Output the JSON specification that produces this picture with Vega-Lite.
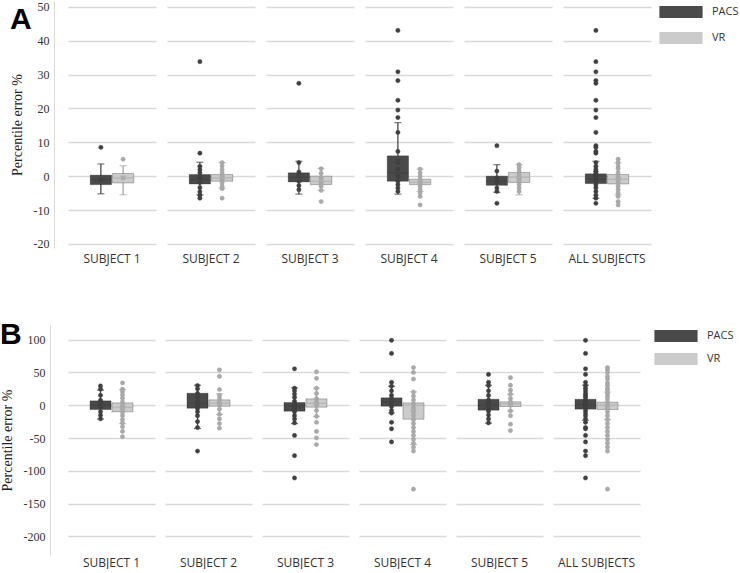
{
"$schema":"https://vega.github.io/schema/vega-lite/v6.json",
"background":"white",
"padding":{"left":0,"top":0,"right":0,"bottom":0},
"config":{
 "view":{"stroke":null},
 "axis":{"grid":true,"gridColor":"#d9d9d9","gridWidth":1.5,"domainColor":"#d9d9d9","domainWidth":1,"ticks":false,"labelFont":"Liberation Serif","labelFontSize":12,"labelColor":"#333333","labelPadding":5,"titleFont":"Liberation Serif","titleFontSize":14,"titleFontWeight":"normal","titleColor":"#222222","titlePadding":9,"labelExpr":"'' + datum.value"},
 "legend":{"symbolType":"M-3.6,-1H3.6V1H-3.6Z","symbolSize":144,"symbolStrokeWidth":0,"symbolOpacity":1,"labelFont":"Open Sans","labelFontSize":11,"labelColor":"#333333","labelOffset":25,"rowPadding":14,"offset":19,"padding":5},
 "header":{"labelFont":"Open Sans","labelFontSize":12,"labelColor":"#333333"}
},
"spacing":55,
"resolve":{"scale":{"color":"independent","fill":"independent","stroke":"independent","y":"independent"},"legend":{"color":"independent"}},
"datasets":{
"A":[
{"kind":"box","subject":"SUBJECT 1","group":"PACS","lo":-5.2,"q1":-2.5,"med":-1.0,"q3":0.3,"hi":3.6,"mean":-1.0},
{"kind":"box","subject":"SUBJECT 1","group":"VR","lo":-5.5,"q1":-2.0,"med":-0.5,"q3":0.8,"hi":3.1,"mean":-0.5},
{"kind":"box","subject":"SUBJECT 2","group":"PACS","lo":-5.5,"q1":-2.3,"med":-1.0,"q3":0.5,"hi":4.1,"mean":-0.3},
{"kind":"box","subject":"SUBJECT 2","group":"VR","lo":-3.5,"q1":-1.5,"med":-0.5,"q3":0.5,"hi":4.0,"mean":-0.4},
{"kind":"box","subject":"SUBJECT 3","group":"PACS","lo":-5.3,"q1":-1.7,"med":-0.3,"q3":1.0,"hi":4.4,"mean":0.3},
{"kind":"box","subject":"SUBJECT 3","group":"VR","lo":-4.2,"q1":-2.5,"med":-1.5,"q3":0.0,"hi":2.3,"mean":-1.5},
{"kind":"box","subject":"SUBJECT 4","group":"PACS","lo":-5.3,"q1":-1.5,"med":1.0,"q3":6.0,"hi":15.8,"mean":4.5},
{"kind":"box","subject":"SUBJECT 4","group":"VR","lo":-4.5,"q1":-2.5,"med":-1.8,"q3":-0.9,"hi":2.1,"mean":-1.8},
{"kind":"box","subject":"SUBJECT 5","group":"PACS","lo":-4.8,"q1":-2.7,"med":-1.5,"q3":0.0,"hi":3.4,"mean":-1.3},
{"kind":"box","subject":"SUBJECT 5","group":"VR","lo":-5.5,"q1":-1.9,"med":-0.3,"q3":1.1,"hi":3.4,"mean":-0.4},
{"kind":"box","subject":"ALL SUBJECTS","group":"PACS","lo":-6.5,"q1":-2.2,"med":-0.8,"q3":0.7,"hi":4.4,"mean":1.0},
{"kind":"box","subject":"ALL SUBJECTS","group":"VR","lo":-5.5,"q1":-2.3,"med":-0.9,"q3":0.5,"hi":3.9,"mean":-0.8},
{"kind":"pt","subject":"SUBJECT 1","group":"PACS","value":8.5},
{"kind":"pt","subject":"SUBJECT 1","group":"VR","value":5.0},
{"kind":"pt","subject":"SUBJECT 2","group":"PACS","value":33.8},
{"kind":"pt","subject":"SUBJECT 2","group":"PACS","value":6.8},
{"kind":"pt","subject":"SUBJECT 2","group":"PACS","value":2.9},
{"kind":"pt","subject":"SUBJECT 2","group":"PACS","value":1.9},
{"kind":"pt","subject":"SUBJECT 2","group":"PACS","value":1.0},
{"kind":"pt","subject":"SUBJECT 2","group":"PACS","value":-0.5},
{"kind":"pt","subject":"SUBJECT 2","group":"PACS","value":-1.9},
{"kind":"pt","subject":"SUBJECT 2","group":"PACS","value":-3.4},
{"kind":"pt","subject":"SUBJECT 2","group":"PACS","value":-4.6},
{"kind":"pt","subject":"SUBJECT 2","group":"PACS","value":-5.6},
{"kind":"pt","subject":"SUBJECT 2","group":"PACS","value":-6.5},
{"kind":"pt","subject":"SUBJECT 2","group":"VR","value":4.0},
{"kind":"pt","subject":"SUBJECT 2","group":"VR","value":3.0},
{"kind":"pt","subject":"SUBJECT 2","group":"VR","value":1.9},
{"kind":"pt","subject":"SUBJECT 2","group":"VR","value":1.0},
{"kind":"pt","subject":"SUBJECT 2","group":"VR","value":0.0},
{"kind":"pt","subject":"SUBJECT 2","group":"VR","value":-1.0},
{"kind":"pt","subject":"SUBJECT 2","group":"VR","value":-1.9},
{"kind":"pt","subject":"SUBJECT 2","group":"VR","value":-2.9},
{"kind":"pt","subject":"SUBJECT 2","group":"VR","value":-3.7},
{"kind":"pt","subject":"SUBJECT 2","group":"VR","value":-6.5},
{"kind":"pt","subject":"SUBJECT 3","group":"PACS","value":27.4},
{"kind":"pt","subject":"SUBJECT 3","group":"PACS","value":4.0},
{"kind":"pt","subject":"SUBJECT 3","group":"PACS","value":1.2},
{"kind":"pt","subject":"SUBJECT 3","group":"PACS","value":0.2},
{"kind":"pt","subject":"SUBJECT 3","group":"PACS","value":-1.5},
{"kind":"pt","subject":"SUBJECT 3","group":"PACS","value":-2.8},
{"kind":"pt","subject":"SUBJECT 3","group":"PACS","value":-4.0},
{"kind":"pt","subject":"SUBJECT 3","group":"VR","value":2.2},
{"kind":"pt","subject":"SUBJECT 3","group":"VR","value":0.8},
{"kind":"pt","subject":"SUBJECT 3","group":"VR","value":-0.5},
{"kind":"pt","subject":"SUBJECT 3","group":"VR","value":-2.0},
{"kind":"pt","subject":"SUBJECT 3","group":"VR","value":-3.0},
{"kind":"pt","subject":"SUBJECT 3","group":"VR","value":-4.2},
{"kind":"pt","subject":"SUBJECT 3","group":"VR","value":-7.5},
{"kind":"pt","subject":"SUBJECT 4","group":"PACS","value":43.0},
{"kind":"pt","subject":"SUBJECT 4","group":"PACS","value":30.8},
{"kind":"pt","subject":"SUBJECT 4","group":"PACS","value":28.2},
{"kind":"pt","subject":"SUBJECT 4","group":"PACS","value":22.4},
{"kind":"pt","subject":"SUBJECT 4","group":"PACS","value":19.5},
{"kind":"pt","subject":"SUBJECT 4","group":"PACS","value":17.3},
{"kind":"pt","subject":"SUBJECT 4","group":"PACS","value":12.9},
{"kind":"pt","subject":"SUBJECT 4","group":"PACS","value":7.3},
{"kind":"pt","subject":"SUBJECT 4","group":"PACS","value":4.0},
{"kind":"pt","subject":"SUBJECT 4","group":"PACS","value":2.0},
{"kind":"pt","subject":"SUBJECT 4","group":"PACS","value":0.0},
{"kind":"pt","subject":"SUBJECT 4","group":"PACS","value":-1.5},
{"kind":"pt","subject":"SUBJECT 4","group":"PACS","value":-2.5},
{"kind":"pt","subject":"SUBJECT 4","group":"PACS","value":-3.5},
{"kind":"pt","subject":"SUBJECT 4","group":"PACS","value":-4.5},
{"kind":"pt","subject":"SUBJECT 4","group":"VR","value":2.1},
{"kind":"pt","subject":"SUBJECT 4","group":"VR","value":1.0},
{"kind":"pt","subject":"SUBJECT 4","group":"VR","value":0.0},
{"kind":"pt","subject":"SUBJECT 4","group":"VR","value":-1.0},
{"kind":"pt","subject":"SUBJECT 4","group":"VR","value":-2.0},
{"kind":"pt","subject":"SUBJECT 4","group":"VR","value":-3.0},
{"kind":"pt","subject":"SUBJECT 4","group":"VR","value":-4.0},
{"kind":"pt","subject":"SUBJECT 4","group":"VR","value":-5.0},
{"kind":"pt","subject":"SUBJECT 4","group":"VR","value":-6.0},
{"kind":"pt","subject":"SUBJECT 4","group":"VR","value":-8.5},
{"kind":"pt","subject":"SUBJECT 5","group":"PACS","value":9.0},
{"kind":"pt","subject":"SUBJECT 5","group":"PACS","value":1.5},
{"kind":"pt","subject":"SUBJECT 5","group":"PACS","value":-0.5},
{"kind":"pt","subject":"SUBJECT 5","group":"PACS","value":-2.0},
{"kind":"pt","subject":"SUBJECT 5","group":"PACS","value":-3.5},
{"kind":"pt","subject":"SUBJECT 5","group":"PACS","value":-4.5},
{"kind":"pt","subject":"SUBJECT 5","group":"PACS","value":-8.0},
{"kind":"pt","subject":"SUBJECT 5","group":"VR","value":3.4},
{"kind":"pt","subject":"SUBJECT 5","group":"VR","value":2.5},
{"kind":"pt","subject":"SUBJECT 5","group":"VR","value":1.5},
{"kind":"pt","subject":"SUBJECT 5","group":"VR","value":0.5},
{"kind":"pt","subject":"SUBJECT 5","group":"VR","value":-0.5},
{"kind":"pt","subject":"SUBJECT 5","group":"VR","value":-1.5},
{"kind":"pt","subject":"SUBJECT 5","group":"VR","value":-2.5},
{"kind":"pt","subject":"SUBJECT 5","group":"VR","value":-3.5},
{"kind":"pt","subject":"SUBJECT 5","group":"VR","value":-4.5},
{"kind":"pt","subject":"ALL SUBJECTS","group":"PACS","value":43.0},
{"kind":"pt","subject":"ALL SUBJECTS","group":"PACS","value":33.8},
{"kind":"pt","subject":"ALL SUBJECTS","group":"PACS","value":30.8},
{"kind":"pt","subject":"ALL SUBJECTS","group":"PACS","value":28.2},
{"kind":"pt","subject":"ALL SUBJECTS","group":"PACS","value":27.4},
{"kind":"pt","subject":"ALL SUBJECTS","group":"PACS","value":22.4},
{"kind":"pt","subject":"ALL SUBJECTS","group":"PACS","value":19.5},
{"kind":"pt","subject":"ALL SUBJECTS","group":"PACS","value":17.3},
{"kind":"pt","subject":"ALL SUBJECTS","group":"PACS","value":12.9},
{"kind":"pt","subject":"ALL SUBJECTS","group":"PACS","value":9.0},
{"kind":"pt","subject":"ALL SUBJECTS","group":"PACS","value":8.5},
{"kind":"pt","subject":"ALL SUBJECTS","group":"PACS","value":7.3},
{"kind":"pt","subject":"ALL SUBJECTS","group":"PACS","value":6.8},
{"kind":"pt","subject":"ALL SUBJECTS","group":"PACS","value":4.0},
{"kind":"pt","subject":"ALL SUBJECTS","group":"PACS","value":2.9},
{"kind":"pt","subject":"ALL SUBJECTS","group":"PACS","value":2.0},
{"kind":"pt","subject":"ALL SUBJECTS","group":"PACS","value":1.2},
{"kind":"pt","subject":"ALL SUBJECTS","group":"PACS","value":0.2},
{"kind":"pt","subject":"ALL SUBJECTS","group":"PACS","value":-0.5},
{"kind":"pt","subject":"ALL SUBJECTS","group":"PACS","value":-1.5},
{"kind":"pt","subject":"ALL SUBJECTS","group":"PACS","value":-2.5},
{"kind":"pt","subject":"ALL SUBJECTS","group":"PACS","value":-3.4},
{"kind":"pt","subject":"ALL SUBJECTS","group":"PACS","value":-4.5},
{"kind":"pt","subject":"ALL SUBJECTS","group":"PACS","value":-5.6},
{"kind":"pt","subject":"ALL SUBJECTS","group":"PACS","value":-6.5},
{"kind":"pt","subject":"ALL SUBJECTS","group":"PACS","value":-8.0},
{"kind":"pt","subject":"ALL SUBJECTS","group":"VR","value":5.0},
{"kind":"pt","subject":"ALL SUBJECTS","group":"VR","value":4.0},
{"kind":"pt","subject":"ALL SUBJECTS","group":"VR","value":3.0},
{"kind":"pt","subject":"ALL SUBJECTS","group":"VR","value":2.2},
{"kind":"pt","subject":"ALL SUBJECTS","group":"VR","value":1.0},
{"kind":"pt","subject":"ALL SUBJECTS","group":"VR","value":0.0},
{"kind":"pt","subject":"ALL SUBJECTS","group":"VR","value":-1.0},
{"kind":"pt","subject":"ALL SUBJECTS","group":"VR","value":-2.0},
{"kind":"pt","subject":"ALL SUBJECTS","group":"VR","value":-3.0},
{"kind":"pt","subject":"ALL SUBJECTS","group":"VR","value":-4.0},
{"kind":"pt","subject":"ALL SUBJECTS","group":"VR","value":-5.0},
{"kind":"pt","subject":"ALL SUBJECTS","group":"VR","value":-6.0},
{"kind":"pt","subject":"ALL SUBJECTS","group":"VR","value":-7.5},
{"kind":"pt","subject":"ALL SUBJECTS","group":"VR","value":-8.5}
],
"B":[
{"kind":"box","subject":"SUBJECT 1","group":"PACS","lo":-21,"q1":-6.6,"med":0,"q3":6.7,"hi":23,"mean":1},
{"kind":"box","subject":"SUBJECT 1","group":"VR","lo":-28,"q1":-10,"med":-3,"q3":3.6,"hi":24,"mean":-5},
{"kind":"box","subject":"SUBJECT 2","group":"PACS","lo":-35.5,"q1":-4.6,"med":3,"q3":18.3,"hi":30.5,"mean":2},
{"kind":"box","subject":"SUBJECT 2","group":"VR","lo":-14,"q1":-1.5,"med":3,"q3":8.2,"hi":17.4,"mean":3},
{"kind":"box","subject":"SUBJECT 3","group":"PACS","lo":-28,"q1":-9.1,"med":-1,"q3":4.1,"hi":26.5,"mean":-5},
{"kind":"box","subject":"SUBJECT 3","group":"VR","lo":-17,"q1":-3,"med":3,"q3":9.7,"hi":26,"mean":2},
{"kind":"box","subject":"SUBJECT 4","group":"PACS","lo":-11.6,"q1":-1.5,"med":5,"q3":11.3,"hi":29,"mean":6},
{"kind":"box","subject":"SUBJECT 4","group":"VR","lo":-60,"q1":-21.3,"med":0,"q3":3.6,"hi":20.4,"mean":-8},
{"kind":"box","subject":"SUBJECT 5","group":"PACS","lo":-27.4,"q1":-7.6,"med":0,"q3":9.1,"hi":30.5,"mean":1},
{"kind":"box","subject":"SUBJECT 5","group":"VR","lo":-8.6,"q1":-2,"med":2,"q3":5.2,"hi":16.8,"mean":2},
{"kind":"box","subject":"ALL SUBJECTS","group":"PACS","lo":-22.9,"q1":-6,"med":1,"q3":9.1,"hi":30.5,"mean":1},
{"kind":"box","subject":"ALL SUBJECTS","group":"VR","lo":-22,"q1":-6.6,"med":0,"q3":4.6,"hi":20,"mean":-3},
{"kind":"pt","subject":"SUBJECT 1","group":"PACS","value":29.4},
{"kind":"pt","subject":"SUBJECT 1","group":"PACS","value":24.4},
{"kind":"pt","subject":"SUBJECT 1","group":"PACS","value":15.2},
{"kind":"pt","subject":"SUBJECT 1","group":"PACS","value":7.6},
{"kind":"pt","subject":"SUBJECT 1","group":"PACS","value":2.6},
{"kind":"pt","subject":"SUBJECT 1","group":"PACS","value":-2.5},
{"kind":"pt","subject":"SUBJECT 1","group":"PACS","value":-10},
{"kind":"pt","subject":"SUBJECT 1","group":"PACS","value":-15.2},
{"kind":"pt","subject":"SUBJECT 1","group":"PACS","value":-20.7},
{"kind":"pt","subject":"SUBJECT 1","group":"VR","value":34},
{"kind":"pt","subject":"SUBJECT 1","group":"VR","value":24.5},
{"kind":"pt","subject":"SUBJECT 1","group":"VR","value":21},
{"kind":"pt","subject":"SUBJECT 1","group":"VR","value":16},
{"kind":"pt","subject":"SUBJECT 1","group":"VR","value":11},
{"kind":"pt","subject":"SUBJECT 1","group":"VR","value":5},
{"kind":"pt","subject":"SUBJECT 1","group":"VR","value":0},
{"kind":"pt","subject":"SUBJECT 1","group":"VR","value":-5},
{"kind":"pt","subject":"SUBJECT 1","group":"VR","value":-11},
{"kind":"pt","subject":"SUBJECT 1","group":"VR","value":-16},
{"kind":"pt","subject":"SUBJECT 1","group":"VR","value":-22},
{"kind":"pt","subject":"SUBJECT 1","group":"VR","value":-27},
{"kind":"pt","subject":"SUBJECT 1","group":"VR","value":-33},
{"kind":"pt","subject":"SUBJECT 1","group":"VR","value":-40},
{"kind":"pt","subject":"SUBJECT 1","group":"VR","value":-48},
{"kind":"pt","subject":"SUBJECT 2","group":"PACS","value":30},
{"kind":"pt","subject":"SUBJECT 2","group":"PACS","value":25},
{"kind":"pt","subject":"SUBJECT 2","group":"PACS","value":18},
{"kind":"pt","subject":"SUBJECT 2","group":"PACS","value":12},
{"kind":"pt","subject":"SUBJECT 2","group":"PACS","value":5},
{"kind":"pt","subject":"SUBJECT 2","group":"PACS","value":0},
{"kind":"pt","subject":"SUBJECT 2","group":"PACS","value":-5},
{"kind":"pt","subject":"SUBJECT 2","group":"PACS","value":-10},
{"kind":"pt","subject":"SUBJECT 2","group":"PACS","value":-16},
{"kind":"pt","subject":"SUBJECT 2","group":"PACS","value":-25},
{"kind":"pt","subject":"SUBJECT 2","group":"PACS","value":-34},
{"kind":"pt","subject":"SUBJECT 2","group":"PACS","value":-70},
{"kind":"pt","subject":"SUBJECT 2","group":"VR","value":54},
{"kind":"pt","subject":"SUBJECT 2","group":"VR","value":44},
{"kind":"pt","subject":"SUBJECT 2","group":"VR","value":24},
{"kind":"pt","subject":"SUBJECT 2","group":"VR","value":15},
{"kind":"pt","subject":"SUBJECT 2","group":"VR","value":10},
{"kind":"pt","subject":"SUBJECT 2","group":"VR","value":5},
{"kind":"pt","subject":"SUBJECT 2","group":"VR","value":0},
{"kind":"pt","subject":"SUBJECT 2","group":"VR","value":-6},
{"kind":"pt","subject":"SUBJECT 2","group":"VR","value":-14},
{"kind":"pt","subject":"SUBJECT 2","group":"VR","value":-21},
{"kind":"pt","subject":"SUBJECT 2","group":"VR","value":-28},
{"kind":"pt","subject":"SUBJECT 2","group":"VR","value":-35},
{"kind":"pt","subject":"SUBJECT 3","group":"PACS","value":55.5},
{"kind":"pt","subject":"SUBJECT 3","group":"PACS","value":26},
{"kind":"pt","subject":"SUBJECT 3","group":"PACS","value":22},
{"kind":"pt","subject":"SUBJECT 3","group":"PACS","value":17},
{"kind":"pt","subject":"SUBJECT 3","group":"PACS","value":12},
{"kind":"pt","subject":"SUBJECT 3","group":"PACS","value":6},
{"kind":"pt","subject":"SUBJECT 3","group":"PACS","value":0},
{"kind":"pt","subject":"SUBJECT 3","group":"PACS","value":-5},
{"kind":"pt","subject":"SUBJECT 3","group":"PACS","value":-10},
{"kind":"pt","subject":"SUBJECT 3","group":"PACS","value":-16},
{"kind":"pt","subject":"SUBJECT 3","group":"PACS","value":-21},
{"kind":"pt","subject":"SUBJECT 3","group":"PACS","value":-27},
{"kind":"pt","subject":"SUBJECT 3","group":"PACS","value":-46},
{"kind":"pt","subject":"SUBJECT 3","group":"PACS","value":-77},
{"kind":"pt","subject":"SUBJECT 3","group":"PACS","value":-111},
{"kind":"pt","subject":"SUBJECT 3","group":"VR","value":51},
{"kind":"pt","subject":"SUBJECT 3","group":"VR","value":41},
{"kind":"pt","subject":"SUBJECT 3","group":"VR","value":26},
{"kind":"pt","subject":"SUBJECT 3","group":"VR","value":18},
{"kind":"pt","subject":"SUBJECT 3","group":"VR","value":10},
{"kind":"pt","subject":"SUBJECT 3","group":"VR","value":5},
{"kind":"pt","subject":"SUBJECT 3","group":"VR","value":0},
{"kind":"pt","subject":"SUBJECT 3","group":"VR","value":-8},
{"kind":"pt","subject":"SUBJECT 3","group":"VR","value":-17},
{"kind":"pt","subject":"SUBJECT 3","group":"VR","value":-26},
{"kind":"pt","subject":"SUBJECT 3","group":"VR","value":-40},
{"kind":"pt","subject":"SUBJECT 3","group":"VR","value":-50},
{"kind":"pt","subject":"SUBJECT 3","group":"VR","value":-60},
{"kind":"pt","subject":"SUBJECT 4","group":"PACS","value":99},
{"kind":"pt","subject":"SUBJECT 4","group":"PACS","value":79},
{"kind":"pt","subject":"SUBJECT 4","group":"PACS","value":35},
{"kind":"pt","subject":"SUBJECT 4","group":"PACS","value":29},
{"kind":"pt","subject":"SUBJECT 4","group":"PACS","value":22},
{"kind":"pt","subject":"SUBJECT 4","group":"PACS","value":15},
{"kind":"pt","subject":"SUBJECT 4","group":"PACS","value":10},
{"kind":"pt","subject":"SUBJECT 4","group":"PACS","value":4},
{"kind":"pt","subject":"SUBJECT 4","group":"PACS","value":-2},
{"kind":"pt","subject":"SUBJECT 4","group":"PACS","value":-8},
{"kind":"pt","subject":"SUBJECT 4","group":"PACS","value":-12},
{"kind":"pt","subject":"SUBJECT 4","group":"PACS","value":-26},
{"kind":"pt","subject":"SUBJECT 4","group":"PACS","value":-36},
{"kind":"pt","subject":"SUBJECT 4","group":"PACS","value":-56},
{"kind":"pt","subject":"SUBJECT 4","group":"VR","value":57.5},
{"kind":"pt","subject":"SUBJECT 4","group":"VR","value":50},
{"kind":"pt","subject":"SUBJECT 4","group":"VR","value":40},
{"kind":"pt","subject":"SUBJECT 4","group":"VR","value":20},
{"kind":"pt","subject":"SUBJECT 4","group":"VR","value":14},
{"kind":"pt","subject":"SUBJECT 4","group":"VR","value":8},
{"kind":"pt","subject":"SUBJECT 4","group":"VR","value":2},
{"kind":"pt","subject":"SUBJECT 4","group":"VR","value":-4},
{"kind":"pt","subject":"SUBJECT 4","group":"VR","value":-10},
{"kind":"pt","subject":"SUBJECT 4","group":"VR","value":-16},
{"kind":"pt","subject":"SUBJECT 4","group":"VR","value":-22},
{"kind":"pt","subject":"SUBJECT 4","group":"VR","value":-28},
{"kind":"pt","subject":"SUBJECT 4","group":"VR","value":-34},
{"kind":"pt","subject":"SUBJECT 4","group":"VR","value":-40},
{"kind":"pt","subject":"SUBJECT 4","group":"VR","value":-46},
{"kind":"pt","subject":"SUBJECT 4","group":"VR","value":-52},
{"kind":"pt","subject":"SUBJECT 4","group":"VR","value":-58},
{"kind":"pt","subject":"SUBJECT 4","group":"VR","value":-64},
{"kind":"pt","subject":"SUBJECT 4","group":"VR","value":-70},
{"kind":"pt","subject":"SUBJECT 4","group":"VR","value":-128},
{"kind":"pt","subject":"SUBJECT 5","group":"PACS","value":47},
{"kind":"pt","subject":"SUBJECT 5","group":"PACS","value":35},
{"kind":"pt","subject":"SUBJECT 5","group":"PACS","value":30},
{"kind":"pt","subject":"SUBJECT 5","group":"PACS","value":22},
{"kind":"pt","subject":"SUBJECT 5","group":"PACS","value":15},
{"kind":"pt","subject":"SUBJECT 5","group":"PACS","value":8},
{"kind":"pt","subject":"SUBJECT 5","group":"PACS","value":3},
{"kind":"pt","subject":"SUBJECT 5","group":"PACS","value":-3},
{"kind":"pt","subject":"SUBJECT 5","group":"PACS","value":-9},
{"kind":"pt","subject":"SUBJECT 5","group":"PACS","value":-15},
{"kind":"pt","subject":"SUBJECT 5","group":"PACS","value":-21},
{"kind":"pt","subject":"SUBJECT 5","group":"PACS","value":-27},
{"kind":"pt","subject":"SUBJECT 5","group":"VR","value":42},
{"kind":"pt","subject":"SUBJECT 5","group":"VR","value":30.5},
{"kind":"pt","subject":"SUBJECT 5","group":"VR","value":23},
{"kind":"pt","subject":"SUBJECT 5","group":"VR","value":16.8},
{"kind":"pt","subject":"SUBJECT 5","group":"VR","value":10},
{"kind":"pt","subject":"SUBJECT 5","group":"VR","value":5},
{"kind":"pt","subject":"SUBJECT 5","group":"VR","value":0},
{"kind":"pt","subject":"SUBJECT 5","group":"VR","value":-8.6},
{"kind":"pt","subject":"SUBJECT 5","group":"VR","value":-16},
{"kind":"pt","subject":"SUBJECT 5","group":"VR","value":-29},
{"kind":"pt","subject":"SUBJECT 5","group":"VR","value":-38.6},
{"kind":"pt","subject":"ALL SUBJECTS","group":"PACS","value":99},
{"kind":"pt","subject":"ALL SUBJECTS","group":"PACS","value":79},
{"kind":"pt","subject":"ALL SUBJECTS","group":"PACS","value":55.5},
{"kind":"pt","subject":"ALL SUBJECTS","group":"PACS","value":47},
{"kind":"pt","subject":"ALL SUBJECTS","group":"PACS","value":35},
{"kind":"pt","subject":"ALL SUBJECTS","group":"PACS","value":30},
{"kind":"pt","subject":"ALL SUBJECTS","group":"PACS","value":26},
{"kind":"pt","subject":"ALL SUBJECTS","group":"PACS","value":22},
{"kind":"pt","subject":"ALL SUBJECTS","group":"PACS","value":18},
{"kind":"pt","subject":"ALL SUBJECTS","group":"PACS","value":15},
{"kind":"pt","subject":"ALL SUBJECTS","group":"PACS","value":12},
{"kind":"pt","subject":"ALL SUBJECTS","group":"PACS","value":8},
{"kind":"pt","subject":"ALL SUBJECTS","group":"PACS","value":4},
{"kind":"pt","subject":"ALL SUBJECTS","group":"PACS","value":0},
{"kind":"pt","subject":"ALL SUBJECTS","group":"PACS","value":-3},
{"kind":"pt","subject":"ALL SUBJECTS","group":"PACS","value":-8},
{"kind":"pt","subject":"ALL SUBJECTS","group":"PACS","value":-12},
{"kind":"pt","subject":"ALL SUBJECTS","group":"PACS","value":-16},
{"kind":"pt","subject":"ALL SUBJECTS","group":"PACS","value":-21},
{"kind":"pt","subject":"ALL SUBJECTS","group":"PACS","value":-26},
{"kind":"pt","subject":"ALL SUBJECTS","group":"PACS","value":-34},
{"kind":"pt","subject":"ALL SUBJECTS","group":"PACS","value":-36},
{"kind":"pt","subject":"ALL SUBJECTS","group":"PACS","value":-46},
{"kind":"pt","subject":"ALL SUBJECTS","group":"PACS","value":-56},
{"kind":"pt","subject":"ALL SUBJECTS","group":"PACS","value":-70},
{"kind":"pt","subject":"ALL SUBJECTS","group":"PACS","value":-77},
{"kind":"pt","subject":"ALL SUBJECTS","group":"PACS","value":-111},
{"kind":"pt","subject":"ALL SUBJECTS","group":"VR","value":57.5},
{"kind":"pt","subject":"ALL SUBJECTS","group":"VR","value":54},
{"kind":"pt","subject":"ALL SUBJECTS","group":"VR","value":50},
{"kind":"pt","subject":"ALL SUBJECTS","group":"VR","value":44},
{"kind":"pt","subject":"ALL SUBJECTS","group":"VR","value":40},
{"kind":"pt","subject":"ALL SUBJECTS","group":"VR","value":34},
{"kind":"pt","subject":"ALL SUBJECTS","group":"VR","value":30.5},
{"kind":"pt","subject":"ALL SUBJECTS","group":"VR","value":26},
{"kind":"pt","subject":"ALL SUBJECTS","group":"VR","value":23},
{"kind":"pt","subject":"ALL SUBJECTS","group":"VR","value":18},
{"kind":"pt","subject":"ALL SUBJECTS","group":"VR","value":14},
{"kind":"pt","subject":"ALL SUBJECTS","group":"VR","value":10},
{"kind":"pt","subject":"ALL SUBJECTS","group":"VR","value":5},
{"kind":"pt","subject":"ALL SUBJECTS","group":"VR","value":0},
{"kind":"pt","subject":"ALL SUBJECTS","group":"VR","value":-5},
{"kind":"pt","subject":"ALL SUBJECTS","group":"VR","value":-10},
{"kind":"pt","subject":"ALL SUBJECTS","group":"VR","value":-16},
{"kind":"pt","subject":"ALL SUBJECTS","group":"VR","value":-22},
{"kind":"pt","subject":"ALL SUBJECTS","group":"VR","value":-28},
{"kind":"pt","subject":"ALL SUBJECTS","group":"VR","value":-34},
{"kind":"pt","subject":"ALL SUBJECTS","group":"VR","value":-40},
{"kind":"pt","subject":"ALL SUBJECTS","group":"VR","value":-46},
{"kind":"pt","subject":"ALL SUBJECTS","group":"VR","value":-52},
{"kind":"pt","subject":"ALL SUBJECTS","group":"VR","value":-58},
{"kind":"pt","subject":"ALL SUBJECTS","group":"VR","value":-64},
{"kind":"pt","subject":"ALL SUBJECTS","group":"VR","value":-70},
{"kind":"pt","subject":"ALL SUBJECTS","group":"VR","value":-128}
]
},
"vconcat":[
{
 "title":{"text":"A","anchor":"start","frame":"bounds","offset":-34,"fontSize":30,"font":"Liberation Sans","fontWeight":"bold","color":"#000000"},
 "data":{"name":"A"},
 "facet":{"column":{"field":"subject","type":"nominal","sort":["SUBJECT 1","SUBJECT 2","SUBJECT 3","SUBJECT 4","SUBJECT 5","ALL SUBJECTS"],"title":null,"header":{"labelOrient":"bottom","labelPadding":6}}},
 "spacing":{"column":4},
 "spec":{
  "width":88,"height":247,
  "encoding":{"x":{"field":"group","type":"nominal","scale":{"domain":["PACS","VR"],"paddingInner":0.04,"paddingOuter":1},"axis":null}},
  "layer":[
   {"transform":[{"filter":{"field":"kind","equal":"box"}}],
    "mark":{"type":"rule","strokeWidth":1.2},
    "encoding":{"y":{"field":"lo","type":"quantitative","title":"Percentile error %","scale":{"domain":[-21.2,51.7],"nice":false,"zero":false},"axis":{"values":[-20,-10,0,10,20,30,40,50],"offset":7}},"y2":{"field":"hi"},
     "stroke":{"field":"group","type":"nominal","scale":{"range":["#3c3c3c","#a0a0a0"]},"legend":null}}},
   {"transform":[{"filter":{"field":"kind","equal":"box"}}],
    "mark":{"type":"bar","stroke":"#000000","strokeOpacity":0.25,"strokeWidth":1},
    "encoding":{"y":{"field":"q1","type":"quantitative","title":"Percentile error %","scale":{"domain":[-21.2,51.7],"nice":false,"zero":false},"axis":{"values":[-20,-10,0,10,20,30,40,50],"offset":7}},"y2":{"field":"q3"},
     "color":{"field":"group","type":"nominal","scale":{"domain":["PACS","VR"],"range":["#4a4a4a","#cbcbcb"]},"legend":{"title":null}}}},
   {"transform":[{"filter":{"field":"kind","equal":"box"}}],
    "mark":{"type":"tick","thickness":1.2,"size":21},
    "encoding":{"y":{"field":"med","type":"quantitative","title":"Percentile error %","scale":{"domain":[-21.2,51.7],"nice":false,"zero":false},"axis":{"values":[-20,-10,0,10,20,30,40,50],"offset":7}},
     "fill":{"field":"group","type":"nominal","scale":{"range":["#404040","#aaaaaa"]},"legend":null}}},
   {"transform":[{"filter":{"field":"kind","equal":"box"}}],
    "mark":{"type":"tick","thickness":1.2,"size":7},
    "encoding":{"y":{"field":"lo","type":"quantitative","title":"Percentile error %","scale":{"domain":[-21.2,51.7],"nice":false,"zero":false},"axis":{"values":[-20,-10,0,10,20,30,40,50],"offset":7}},"fill":{"field":"group","type":"nominal","legend":null}}},
   {"transform":[{"filter":{"field":"kind","equal":"box"}}],
    "mark":{"type":"tick","thickness":1.2,"size":7},
    "encoding":{"y":{"field":"hi","type":"quantitative","title":"Percentile error %","scale":{"domain":[-21.2,51.7],"nice":false,"zero":false},"axis":{"values":[-20,-10,0,10,20,30,40,50],"offset":7}},"fill":{"field":"group","type":"nominal","legend":null}}},
   {"transform":[{"filter":{"field":"kind","equal":"pt"}}],
    "mark":{"type":"point","shape":"circle","filled":true,"size":18,"strokeWidth":0.5,"opacity":1},
    "encoding":{"y":{"field":"value","type":"quantitative","title":"Percentile error %","scale":{"domain":[-21.2,51.7],"nice":false,"zero":false},"axis":{"values":[-20,-10,0,10,20,30,40,50],"offset":7}},"fill":{"field":"group","type":"nominal","legend":null},"stroke":{"field":"group","type":"nominal","legend":null}}},
   {"transform":[{"filter":{"field":"kind","equal":"box"}}],
    "mark":{"type":"point","shape":"cross","angle":45,"filled":true,"size":35,"opacity":0.9},
    "encoding":{"y":{"field":"mean","type":"quantitative","title":"Percentile error %","scale":{"domain":[-21.2,51.7],"nice":false,"zero":false},"axis":{"values":[-20,-10,0,10,20,30,40,50],"offset":7}},"fill":{"field":"group","type":"nominal","legend":null}}}
  ]
 }
},
{
 "title":{"text":"B","anchor":"start","frame":"bounds","offset":-25,"fontSize":30,"font":"Liberation Sans","fontWeight":"bold","color":"#000000"},
 "data":{"name":"B"},
 "facet":{"column":{"field":"subject","type":"nominal","sort":["SUBJECT 1","SUBJECT 2","SUBJECT 3","SUBJECT 4","SUBJECT 5","ALL SUBJECTS"],"title":null,"header":{"labelOrient":"bottom","labelPadding":3}}},
 "spacing":{"column":1},
 "spec":{
  "width":87,"height":230,
  "encoding":{"x":{"field":"group","type":"nominal","scale":{"domain":["PACS","VR"],"paddingInner":0.04,"paddingOuter":1},"axis":null}},
  "layer":[
   {"transform":[{"filter":{"field":"kind","equal":"box"}}],
    "mark":{"type":"rule","strokeWidth":1.2},
    "encoding":{"y":{"field":"lo","type":"quantitative","title":"Percentile error  %","scale":{"domain":[-228.5,122.4],"nice":false,"zero":false},"axis":{"values":[-200,-150,-100,-50,0,50,100],"offset":9}},"y2":{"field":"hi"},
     "stroke":{"field":"group","type":"nominal","scale":{"range":["#3c3c3c","#a0a0a0"]},"legend":null}}},
   {"transform":[{"filter":{"field":"kind","equal":"box"}}],
    "mark":{"type":"bar","stroke":"#000000","strokeOpacity":0.25,"strokeWidth":1},
    "encoding":{"y":{"field":"q1","type":"quantitative","title":"Percentile error  %","scale":{"domain":[-228.5,122.4],"nice":false,"zero":false},"axis":{"values":[-200,-150,-100,-50,0,50,100],"offset":9}},"y2":{"field":"q3"},
     "color":{"field":"group","type":"nominal","scale":{"domain":["PACS","VR"],"range":["#4a4a4a","#cbcbcb"]},"legend":{"title":null,"offset":25,"rowPadding":11}}}},
   {"transform":[{"filter":{"field":"kind","equal":"box"}}],
    "mark":{"type":"tick","thickness":1.2,"size":21},
    "encoding":{"y":{"field":"med","type":"quantitative","title":"Percentile error  %","scale":{"domain":[-228.5,122.4],"nice":false,"zero":false},"axis":{"values":[-200,-150,-100,-50,0,50,100],"offset":9}},
     "fill":{"field":"group","type":"nominal","scale":{"range":["#404040","#aaaaaa"]},"legend":null}}},
   {"transform":[{"filter":{"field":"kind","equal":"box"}}],
    "mark":{"type":"tick","thickness":1.2,"size":7},
    "encoding":{"y":{"field":"lo","type":"quantitative","title":"Percentile error  %","scale":{"domain":[-228.5,122.4],"nice":false,"zero":false},"axis":{"values":[-200,-150,-100,-50,0,50,100],"offset":9}},"fill":{"field":"group","type":"nominal","legend":null}}},
   {"transform":[{"filter":{"field":"kind","equal":"box"}}],
    "mark":{"type":"tick","thickness":1.2,"size":7},
    "encoding":{"y":{"field":"hi","type":"quantitative","title":"Percentile error  %","scale":{"domain":[-228.5,122.4],"nice":false,"zero":false},"axis":{"values":[-200,-150,-100,-50,0,50,100],"offset":9}},"fill":{"field":"group","type":"nominal","legend":null}}},
   {"transform":[{"filter":{"field":"kind","equal":"pt"}}],
    "mark":{"type":"point","shape":"circle","filled":true,"size":18,"strokeWidth":0.5,"opacity":1},
    "encoding":{"y":{"field":"value","type":"quantitative","title":"Percentile error  %","scale":{"domain":[-228.5,122.4],"nice":false,"zero":false},"axis":{"values":[-200,-150,-100,-50,0,50,100],"offset":9}},"fill":{"field":"group","type":"nominal","legend":null},"stroke":{"field":"group","type":"nominal","legend":null}}},
   {"transform":[{"filter":{"field":"kind","equal":"box"}}],
    "mark":{"type":"point","shape":"cross","angle":45,"filled":true,"size":35,"opacity":0.9},
    "encoding":{"y":{"field":"mean","type":"quantitative","title":"Percentile error  %","scale":{"domain":[-228.5,122.4],"nice":false,"zero":false},"axis":{"values":[-200,-150,-100,-50,0,50,100],"offset":9}},"fill":{"field":"group","type":"nominal","legend":null}}}
  ]
 }
}
]
}
